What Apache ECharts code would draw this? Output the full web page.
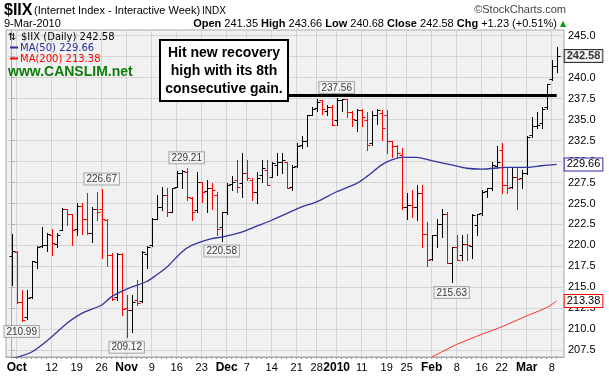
<!DOCTYPE html>
<html>
<head>
<meta charset="utf-8">
<script src="https://cdn.jsdelivr.net/npm/echarts@6/dist/echarts.min.js"></script>
<style>
html, body { margin: 0; padding: 0; background: #fff; }
#chart { width: 609px; height: 378px; }
</style>
</head>
<body>
<div id="chart"></div>
<script>
// daily bars, Sep 30 2009 .. Mar 9 2010
var dates = ['2009-09-30',
  '2009-10-01','2009-10-02','2009-10-05','2009-10-06','2009-10-07','2009-10-08','2009-10-09','2009-10-12','2009-10-13','2009-10-14',
  '2009-10-15','2009-10-16','2009-10-19','2009-10-20','2009-10-21','2009-10-22','2009-10-23','2009-10-26','2009-10-27','2009-10-28',
  '2009-10-29','2009-10-30',
  '2009-11-02','2009-11-03','2009-11-04','2009-11-05','2009-11-06','2009-11-09','2009-11-10','2009-11-11','2009-11-12','2009-11-13',
  '2009-11-16','2009-11-17','2009-11-18','2009-11-19','2009-11-20','2009-11-23','2009-11-24','2009-11-25','2009-11-27','2009-11-30',
  '2009-12-01','2009-12-02','2009-12-03','2009-12-04','2009-12-07','2009-12-08','2009-12-09','2009-12-10','2009-12-11','2009-12-14',
  '2009-12-15','2009-12-16','2009-12-17','2009-12-18','2009-12-21','2009-12-22','2009-12-23','2009-12-24','2009-12-28','2009-12-29',
  '2009-12-30','2009-12-31',
  '2010-01-04','2010-01-05','2010-01-06','2010-01-07','2010-01-08','2010-01-11','2010-01-12','2010-01-13','2010-01-14','2010-01-15',
  '2010-01-19','2010-01-20','2010-01-21','2010-01-22','2010-01-25','2010-01-26','2010-01-27','2010-01-28','2010-01-29',
  '2010-02-01','2010-02-02','2010-02-03','2010-02-04','2010-02-05','2010-02-08','2010-02-09','2010-02-10','2010-02-11','2010-02-12',
  '2010-02-16','2010-02-17','2010-02-18','2010-02-19','2010-02-22','2010-02-23','2010-02-24','2010-02-25','2010-02-26',
  '2010-03-01','2010-03-02','2010-03-03','2010-03-04','2010-03-05','2010-03-08','2010-03-09'];

var opens = [218.7,219.2,213.2,211.5,213.8,218.0,219.9,220.0,221.3,220.2,
  221.8,224.4,223.8,221.9,224.7,223.1,221.5,224.3,224.3,223.0,
  218.9,213.8,219.0,212.5,212.3,213.5,213.4,219.0,220.0,223.2,
  224.6,226.0,224.0,227.0,228.6,228.8,225.6,224.2,227.6,226.5,
  226.8,226.0,222.2,224.0,227.3,227.8,227.5,228.6,227.8,226.4,
  228.4,229.0,228.2,229.6,230.0,230.0,227.0,229.5,232.0,232.5,
  235.6,236.4,237.3,236.0,236.5,234.9,237.3,237.4,235.9,235.0,
  236.2,235.0,232.2,235.5,235.8,235.5,232.4,231.8,230.8,224.6,
  224.8,224.6,226.2,221.4,218.4,221.2,222.6,223.8,217.9,219.8,
  218.8,220.2,219.9,222.4,223.9,226.5,226.9,229.5,231.4,227.2,
  227.0,228.2,228.0,228.6,233.2,234.2,234.6,236.5,239.8,241.35];
var highs = [221.4,219.3,214.7,214.7,218.2,219.9,222.2,221.5,221.9,221.5,
  224.5,224.4,223.8,225.0,225.1,226.3,224.6,226.4,226.67,223.1,
  219.1,219.1,219.1,214.1,214.1,215.9,219.3,219.9,223.3,226.0,
  227.0,226.9,226.9,228.9,229.0,229.21,225.8,228.8,227.6,227.8,
  227.5,226.4,224.0,227.4,228.3,230.2,231.0,230.2,228.0,228.8,
  230.2,230.2,230.0,231.0,231.0,230.0,229.6,232.2,233.0,235.5,
  236.5,237.4,237.3,236.7,236.7,237.56,237.5,237.5,236.0,236.3,
  236.3,235.9,236.0,236.3,236.1,236.1,232.4,232.0,231.6,226.2,
  226.6,227.2,227.2,222.8,221.2,223.2,224.4,224.0,219.8,221.2,
  221.2,221.4,223.8,223.8,226.6,226.8,230.0,231.8,232.2,229.4,
  229.2,229.4,229.0,233.0,235.3,235.9,236.5,239.3,242.1,243.66];
var lows = [215.3,213.1,210.99,211.2,213.7,217.3,219.8,219.3,218.9,219.8,
  221.8,222.4,220.0,221.2,221.4,221.4,220.4,223.0,218.5,217.5,
  213.5,213.5,211.7,209.12,209.7,212.9,213.3,217.3,219.9,223.2,
  224.2,223.5,224.0,227.0,226.8,225.4,223.0,224.0,225.2,224.0,
  224.4,221.2,220.58,223.8,226.6,226.4,225.8,227.8,225.4,225.0,
  227.6,227.2,228.2,228.4,228.6,226.8,226.6,229.4,231.6,231.8,
  235.5,236.0,235.7,235.5,234.4,234.4,236.0,235.3,234.2,233.6,
  234.2,231.4,232.0,234.5,232.6,231.0,230.6,230.4,224.4,223.2,
  223.4,223.0,219.8,217.5,218.3,219.8,221.0,217.9,215.63,218.3,
  218.3,218.3,218.5,221.2,223.6,225.8,226.6,229.2,226.2,226.2,
  226.8,224.4,226.8,228.5,232.9,234.0,234.0,236.3,239.7,240.68];
var closes = [219.3,213.2,211.1,213.7,218.1,219.8,220.1,221.4,220.3,221.3,
  224.4,223.8,221.8,224.7,223.1,221.5,224.3,224.0,223.1,218.9,
  213.6,219.0,212.4,212.3,213.3,213.1,219.2,219.8,223.2,224.6,
  226.0,224.0,226.9,228.6,228.9,225.8,224.0,227.6,226.4,226.8,
  226.6,222.0,224.0,227.2,227.6,227.0,228.6,228.0,226.4,228.0,
  229.2,227.2,229.8,230.0,230.2,226.8,229.4,231.8,232.4,235.5,
  236.3,237.1,236.3,236.5,234.4,237.3,237.4,235.9,235.1,236.2,
  235.3,232.0,235.5,236.2,234.0,232.4,231.8,231.0,224.6,224.8,
  224.6,226.2,221.4,218.3,221.2,222.6,223.8,217.9,219.8,218.3,
  220.2,220.0,223.6,223.8,226.4,226.8,229.6,230.0,227.2,226.8,
  228.2,227.9,228.6,232.9,234.2,234.3,236.3,239.2,241.35,242.58];

// moving averages (bar index, value)
var ma50Idx = [0,4,8,11,14,18,20,23,27,29,31,34,36,40,42,46,49,52,55,58,61,65,69,71,74,76,78,81,84,88,91,94,99,103,106,109];
var ma50Val = [206.5,207.3,209.1,210.7,211.9,212.9,213.9,214.8,215.7,216.5,217.4,219.2,220.0,220.8,221.0,221.6,222.3,223.0,223.8,224.6,225.2,226.4,227.4,228.2,229.6,230.2,230.5,230.5,230.1,229.6,229.2,229.1,229.3,229.3,229.5,229.66];
var ma200Idx = [84,86,89,94,98,103,107,109];
var ma200Val = [206.7,207.3,208.2,209.4,210.3,211.6,212.6,213.38];

// axis ticks
var xTickIdx = [1,8,13,18,23,28,33,38,43,47,52,57,61,65,70,75,79,84,89,94,98,103,108];
var xTickText = ['Oct','12','19','26','Nov','9','16','23','Dec','7','14','21','28','2010','11','19','25','Feb','8','16','22','Mar','8'];
var yTicks = [207.5,210,212.5,215,217.5,220,222.5,225,227.5,230,232.5,235,237.5,240,242.5,245];

// price notes
var noteIdx = [2,18,23,35,42,65,88];
var noteVal = [210.99,226.67,209.12,229.21,220.58,237.56,215.63];
var noteBelow = [true,false,true,false,true,false,true];

// resistance line drawn by the annotator
var lineLevel = 237.85, lineFrom = 55.3, lineTo = 109;

var F = '"Liberation Sans", Arial, sans-serif';
var last = closes.length - 1;
var chg = closes[last] - closes[last - 1];
var pct = chg / closes[last - 1] * 100;
var months = ['Jan','Feb','Mar','Apr','May','Jun','Jul','Aug','Sep','Oct','Nov','Dec'];
var dp = dates[last].split('-');
var dateText = (+dp[2]) + '-' + months[+dp[1] - 1] + '-' + dp[0];

var ohlc = dates.map(function (d, i) { return [i, opens[i], highs[i], lows[i], closes[i]]; });
var dayIdx = dates.map(function (d, i) { return i; });
var ma50 = ma50Idx.map(function (i, k) { return [i, ma50Val[k]]; });
var ma200 = ma200Idx.map(function (i, k) { return [i, ma200Val[k]]; });
var notesUp = [], notesDown = [];
noteIdx.forEach(function (i, k) {
  (noteBelow[k] ? notesDown : notesUp).push([i, noteVal[k]]);
});

function renderBar(params, api) {
  var i = api.value(0);
  var x = Math.round(api.coord([i, api.value(2)])[0]) + 0.5;
  var yH = Math.round(api.coord([i, api.value(2)])[1]);
  var yL = Math.round(api.coord([i, api.value(3)])[1]);
  var yO = Math.round(api.coord([i, api.value(1)])[1]) + 0.5;
  var yC = Math.round(api.coord([i, api.value(4)])[1]) + 0.5;
  var up = i === 0 || closes[i] >= closes[i - 1];
  var col = up ? '#000000' : '#ff0000';
  return {
    type: 'group',
    children: [
      { type: 'line', shape: { x1: x, y1: yH, x2: x, y2: yL + 1 }, style: { stroke: col, lineWidth: 1 } },
      { type: 'line', shape: { x1: x - 3, y1: yO, x2: x, y2: yO }, style: { stroke: col, lineWidth: 1 } },
      { type: 'line', shape: { x1: x, y1: yC, x2: x + 3, y2: yC }, style: { stroke: col, lineWidth: 1 } }
    ]
  };
}

var noteLabel = {
  show: true,
  formatter: function (p) { return p.value[1].toFixed(2); },
  fontFamily: F, fontSize: 10, color: '#000',
  backgroundColor: '#f8f8f8', borderColor: '#9a9a9a', borderWidth: 1,
  padding: [1, 2, 0, 2], distance: 5
};

var myChart = echarts.init(document.getElementById('chart'));
myChart.setOption({
  animation: false,
  backgroundColor: '#ffffff',
  grid: {
    left: 6, right: 45, top: 30, bottom: 21,
    show: true, backgroundColor: '#f1f1f1', borderColor: '#a8a8a8', borderWidth: 1
  },
  xAxis: [{
    type: 'value', min: -1.14, max: 110.46,
    axisLine: { show: true, lineStyle: { color: '#a8a8a8' } },
    axisTick: { show: false, customValues: xTickIdx },
    splitLine: { show: true, lineStyle: { color: '#d4d4d4', width: 1 } },
    axisLabel: {
      customValues: xTickIdx, margin: 5,
      fontFamily: F, fontSize: 11, color: '#000',
      formatter: function (v) {
        var t = xTickText[xTickIdx.indexOf(Math.round(v))] || '';
        return /^\d+$/.test(t) && t !== '2010' ? t : '{b|' + t + '}';
      },
      rich: { b: { fontFamily: F, fontSize: 12, fontWeight: 'bold', color: '#000' } }
    }
  }, {
    // daily tick marks under the axis
    type: 'value', min: -1.14, max: 110.46, position: 'bottom', offset: 0,
    axisLine: { show: false },
    axisTick: { show: true, customValues: dayIdx, length: 2, lineStyle: { color: '#9a9a9a' } },
    splitLine: { show: false },
    axisLabel: { show: false }
  }],
  yAxis: {
    type: 'value', position: 'right', min: 206.7, max: 245.68,
    axisLine: { show: true, lineStyle: { color: '#a8a8a8' } },
    axisTick: { show: true, customValues: yTicks, length: 3, lineStyle: { color: '#a8a8a8' } },
    splitLine: { show: true, lineStyle: { color: '#d4d4d4', width: 1 } },
    axisLabel: {
      customValues: yTicks, margin: 4,
      fontFamily: F, fontSize: 11, color: '#000',
      formatter: function (v) { return v.toFixed(1); }
    }
  },
  series: [
    {
      name: 'MA(200)', type: 'line', data: ma200, symbol: 'none', smooth: 0.3,
      lineStyle: { color: '#ff2a2a', width: 1 },
      endLabel: {
        show: true, distance: 8,
        formatter: function (p) { return p.value[1].toFixed(2); },
        fontFamily: F, fontSize: 11, color: '#000',
        backgroundColor: '#fff', borderColor: '#ff0000', borderWidth: 1, padding: [1, 2, 0, 2]
      }
    },
    {
      name: 'MA(50)', type: 'line', data: ma50, symbol: 'none', smooth: 0.3,
      lineStyle: { color: '#34349e', width: 1.3 },
      endLabel: {
        show: true, distance: 8,
        formatter: function (p) { return p.value[1].toFixed(2); },
        fontFamily: F, fontSize: 11, color: '#000',
        backgroundColor: '#fff', borderColor: '#2a2aa0', borderWidth: 1, padding: [1, 2, 0, 2]
      },
      markLine: {
        silent: true, symbol: 'none', label: { show: false },
        lineStyle: { color: '#000', width: 3, type: 'solid' },
        data: [[{ coord: [lineFrom, lineLevel] }, { coord: [lineTo, lineLevel] }]]
      }
    },
    {
      name: '$IIX', type: 'custom', renderItem: renderBar, data: ohlc, clip: true,
      encode: { x: 0, y: [1, 2, 3, 4] }
    },
    {
      type: 'scatter', data: [[last, closes[last]]], symbolSize: 0,
      label: {
        show: true, position: 'right', distance: 8,
        formatter: function (p) { return p.value[1].toFixed(2); },
        fontFamily: F, fontSize: 11, fontWeight: 'bold', color: '#000',
        backgroundColor: '#fff', borderColor: '#000', borderWidth: 1, padding: [1, 2, 0, 2]
      }
    },
    {
      type: 'scatter', data: notesUp, symbolSize: 0,
      label: Object.assign({ position: 'top' }, noteLabel)
    },
    {
      type: 'scatter', data: notesDown, symbolSize: 0,
      label: Object.assign({ position: 'bottom' }, noteLabel)
    }
  ],
  graphic: [
    { type: 'text', x: 4, y: 11, style: { text: '$IIX', font: 'bold 16px ' + F, fill: '#000', verticalAlign: 'middle' } },
    { type: 'text', x: 34, y: 11, style: { text: '(Internet Index - Interactive Week)', font: '11px ' + F, fill: '#000', verticalAlign: 'middle' } },
    { type: 'text', x: 202, y: 11, style: { text: 'INDX', font: '10px ' + F, fill: '#000', verticalAlign: 'middle' } },
    { type: 'text', x: 566, y: 10, style: { text: '\u00a9StockCharts.com', font: '11px ' + F, fill: '#444', align: 'right', verticalAlign: 'middle' } },
    { type: 'text', x: 4, y: 24, style: { text: dateText, font: '11px ' + F, fill: '#000', verticalAlign: 'middle' } },
    {
      type: 'text', x: 557, y: 24,
      style: {
        text: '{b|Open} ' + opens[last].toFixed(2) + ' {b|High} ' + highs[last].toFixed(2) +
          ' {b|Low} ' + lows[last].toFixed(2) + ' {b|Close} ' + closes[last].toFixed(2) +
          ' {b|Chg} ' + (chg >= 0 ? '+' : '') + chg.toFixed(2) + ' (' + (pct >= 0 ? '+' : '') + pct.toFixed(2) + '%)',
        font: '11px ' + F, fill: '#000', align: 'right', verticalAlign: 'middle',
        rich: { b: { font: 'bold 11px ' + F, fill: '#000' } }
      }
    },
    { type: 'text', x: 563, y: 24, style: { text: '\u25b2', font: '8px "DejaVu Sans"', fill: '#00a000', align: 'center', verticalAlign: 'middle' } },

    { type: 'text', x: 8, y: 37, z: 10, style: { text: '\u21c5', font: '10px "DejaVu Sans"', fill: '#000', verticalAlign: 'middle' } },
    { type: 'text', x: 21, y: 37, z: 10, style: { text: '$IIX (Daily) ' + closes[last].toFixed(2), font: '10px "DejaVu Sans"', fill: '#000', verticalAlign: 'middle' } },
    { type: 'line', z: 10, shape: { x1: 10, y1: 47.5, x2: 18, y2: 47.5 }, style: { stroke: '#2a2aa0', lineWidth: 2 } },
    { type: 'text', x: 20, y: 48, z: 10, style: { text: 'MA(50) ' + ma50Val[ma50Val.length - 1].toFixed(2), font: '10px "DejaVu Sans"', fill: '#2a2aa0', verticalAlign: 'middle' } },
    { type: 'line', z: 10, shape: { x1: 10, y1: 58.5, x2: 18, y2: 58.5 }, style: { stroke: '#ff0000', lineWidth: 2 } },
    { type: 'text', x: 20, y: 59, z: 10, style: { text: 'MA(200) ' + ma200Val[ma200Val.length - 1].toFixed(2), font: '10px "DejaVu Sans"', fill: '#ff0000', verticalAlign: 'middle' } },
    { type: 'text', x: 8, y: 72, z: 10, style: { text: 'www.CANSLIM.net', font: 'bold 14px ' + F, fill: '#0b7d0b', verticalAlign: 'middle' } },

    { type: 'rect', z: 10, shape: { x: 160, y: 40, width: 128, height: 61 }, style: { fill: '#ffffff', stroke: '#000', lineWidth: 2 } },
    {
      type: 'text', z: 11, x: 224, y: 71,
      style: {
        text: 'Hit new recovery\nhigh with its 8th\nconsecutive gain.',
        font: 'bold 14px ' + F, fill: '#000', align: 'center', verticalAlign: 'middle', lineHeight: 18
      }
    }
  ]
});
</script>
</body>
</html>
